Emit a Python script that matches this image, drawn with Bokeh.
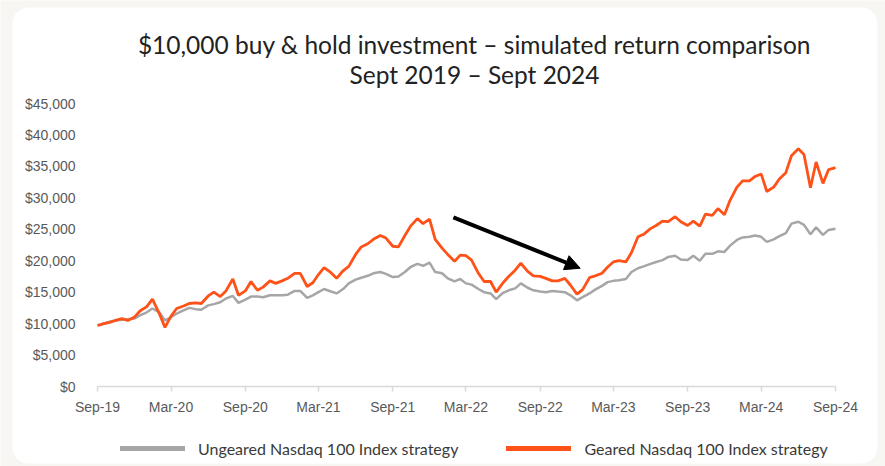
import pandas as pd
from bokeh.plotting import figure
from bokeh.models import (Range1d, FixedTicker, DatetimeTickFormatter, NumeralTickFormatter,
                          Legend, LegendItem, Arrow, NormalHead, ColumnDataSource, Label,
                          BoxAnnotation)
from bokeh.embed import file_html
from bokeh.resources import INLINE

# ---- data (semi-monthly readings, Sep 2019 - Sep 2024) ----
dates = pd.date_range("2019-09-01", periods=121, freq="SMS")

ungeared = [9700, 10000, 10300, 10500, 10600, 10700, 10800, 11300, 11800, 12400,
            11800, 10500, 11000, 11600, 12100, 12500, 12300, 12200, 12900, 13100,
            13400, 14000, 14400, 13300, 13800, 14300, 14300, 14200, 14500, 14500,
            14500, 14600, 15200, 15200, 14100, 14500, 15000, 15500, 15100, 14800,
            15500, 16400, 17000, 17300, 17600, 18000, 18200, 17900, 17400, 17500,
            18200, 19000, 19500, 19200, 19700, 18200, 18000, 17200, 16700, 17100,
            16400, 16200, 15500, 15000, 14800, 13900, 14900, 15300, 15600, 16400,
            15700, 15300, 15100, 15000, 15200, 15100, 15000, 14500, 13700, 14200,
            14800, 15400, 16000, 16600, 16800, 16900, 17100, 18200, 18800, 19100,
            19500, 19800, 20100, 20600, 20800, 20200, 20100, 20800, 20000, 21100,
            21100, 21500, 21400, 22400, 23300, 23700, 23800, 24000, 23800, 23000,
            23400, 23900, 24400, 25900, 26200, 25700, 24200, 25300, 24100, 24900,
            25100]

geared = [9700, 9950, 10200, 10500, 10800, 10500, 11000, 12000, 12700, 13900,
          11600, 9400, 11200, 12400, 12800, 13200, 13300, 13200, 14400, 15000,
          14300, 15200, 17100, 14500, 15200, 16700, 15300, 15800, 16800, 16400,
          16800, 17200, 18000, 18000, 15900, 16500, 17800, 18900, 18100, 17200,
          18400, 19100, 21000, 22200, 22700, 23400, 24000, 23600, 22300, 22200,
          24000, 25500, 26700, 25900, 26600, 23400, 22000, 21000, 19900, 20900,
          20800, 20100, 18000, 16700, 16700, 15000, 16500, 17500, 18500, 19600,
          18300, 17600, 17500, 17200, 16800, 16800, 17200, 16100, 14700, 15400,
          17300, 17600, 18000, 19000, 19800, 20000, 19800, 21300, 23800, 24200,
          25100, 25600, 26300, 26200, 27000, 26200, 25600, 26300, 25500, 27400,
          27200, 28300, 27300, 29600, 31700, 32700, 32700, 33400, 33800, 31000,
          31700, 33000, 34000, 36700, 37800, 36900, 31600, 35700, 32300, 34500,
          34800]

tick_dates = ["2019-09-01", "2020-03-01", "2020-09-01", "2021-03-01", "2021-09-01",
              "2022-03-01", "2022-09-01", "2023-03-01", "2023-09-01", "2024-03-01",
              "2024-09-01"]
y_ticks = [0, 5000, 10000, 15000, 20000, 25000, 30000, 35000, 40000, 45000]

arrow_start = ("2022-01-29", 26900)
arrow_end = ("2022-12-09", 18800)

series_labels = ["Ungeared Nasdaq 100 Index strategy", "Geared Nasdaq 100 Index strategy"]
title_line1 = "$10,000 buy & hold investment \u2013 simulated return comparison"
title_line2 = "Sept 2019 \u2013 Sept 2024"

GREY = "#a6a6a6"
ORANGE = "#fe5219"
TEXT = "#595959"
PAGE_BG = "#f7f6f2"

# ---- layout constants (pixels) ----
W, H = 885, 466
X_FIRST, X_LAST = 97, 835      # x of first / last date tick
Y_TOP_TICK, Y_ZERO = 103, 386  # y of top tick / zero line
CARD = dict(left=12, right=877, top=7, bottom=463)


def ms(d):
    return pd.Timestamp(d).value / 1e6


# the frame covers the whole canvas; ranges chosen so ticks land on the right pixels
t0, t1 = ms(tick_dates[0]), ms(tick_dates[-1])
ms_per_px = (t1 - t0) / (X_LAST - X_FIRST)
x_start = t0 - X_FIRST * ms_per_px
x_end = t0 + (W - X_FIRST) * ms_per_px
per_px = (y_ticks[-1] - y_ticks[0]) / (Y_ZERO - Y_TOP_TICK)
y_start = y_ticks[0] - (H - Y_ZERO) * per_px
y_end = y_ticks[0] + Y_ZERO * per_px

src = ColumnDataSource(dict(date=dates, ungeared=ungeared, geared=geared))

p = figure(width=W, height=H, output_backend="svg", toolbar_location=None,
           title=None, x_axis_type="datetime",
           x_range=Range1d(x_start, x_end), y_range=Range1d(y_start, y_end),
           min_border_left=0, min_border_right=0, min_border_top=0,
           min_border_bottom=0)

p.outline_line_color = None
p.background_fill_color = PAGE_BG
p.border_fill_color = PAGE_BG
p.xgrid.visible = False
p.ygrid.visible = False

# white rounded card behind the chart
p.add_layout(BoxAnnotation(left=CARD["left"], right=CARD["right"],
                           top=H - CARD["top"], bottom=H - CARD["bottom"],
                           left_units="screen", right_units="screen",
                           top_units="screen", bottom_units="screen",
                           fill_color="white", fill_alpha=1, line_color=None,
                           border_radius=16, level="underlay"))

# axes (both pinned inside the frame)
p.yaxis.fixed_location = t0
p.yaxis.ticker = FixedTicker(ticks=y_ticks)
p.yaxis.formatter = NumeralTickFormatter(format="$0,0")
p.yaxis.axis_line_color = None
p.yaxis.major_tick_line_color = None
p.yaxis.minor_tick_line_color = None
p.yaxis.major_label_text_font = "Liberation Sans"
p.yaxis.major_label_text_font_size = "14px"
p.yaxis.major_label_text_color = TEXT
p.yaxis.major_label_standoff = 16

p.xaxis.fixed_location = 0
p.xaxis.bounds = (t0, t1)
p.xaxis.ticker = FixedTicker(ticks=[ms(d) for d in tick_dates])
fmt = "%b-%y"
p.xaxis.formatter = DatetimeTickFormatter(months=fmt, days=fmt, years=fmt, hours=fmt,
                                          minutes=fmt, seconds=fmt, milliseconds=fmt,
                                          microseconds=fmt, minsec=fmt, hourmin=fmt)
p.xaxis.axis_line_color = "#d9d9d9"
p.xaxis.axis_line_width = 1.5
p.xaxis.major_tick_line_color = "#d9d9d9"
p.xaxis.major_tick_line_width = 1.5
p.xaxis.major_tick_in = 0
p.xaxis.major_tick_out = 5
p.xaxis.minor_tick_line_color = None
p.xaxis.major_label_text_font = "Liberation Sans"
p.xaxis.major_label_text_font_size = "14px"
p.xaxis.major_label_text_color = TEXT
p.xaxis.major_label_standoff = 7

# title (two centred lines)
for txt, ypix in ((title_line1, 44), (title_line2, 74)):
    p.add_layout(Label(x=474, y=H - ypix, x_units="screen", y_units="screen",
                       text=txt, text_align="center", text_baseline="middle",
                       text_font="Lato", text_font_size="24.5px", text_color="#222222"))

# lines
p.line("date", "ungeared", source=src, line_color=GREY, line_width=2.5)
p.line("date", "geared", source=src, line_color=ORANGE, line_width=2.8)

# arrow annotation
p.add_layout(Arrow(x_start=ms(arrow_start[0]), y_start=arrow_start[1],
                   x_end=ms(arrow_end[0]), y_end=arrow_end[1],
                   line_color="black", line_width=4,
                   end=NormalHead(size=15, fill_color="black", line_color="black")))

# legend with thicker swatches (renderers that draw nothing in the plot)
blank = ColumnDataSource(dict(x=[float("nan")], y=[float("nan")]))
lg1 = p.line("x", "y", source=blank, line_color=GREY, line_width=5, line_cap="round")
lg2 = p.line("x", "y", source=blank, line_color=ORANGE, line_width=5, line_cap="round")
legend = Legend(items=[LegendItem(label=series_labels[0], renderers=[lg1]),
                       LegendItem(label=series_labels[1], renderers=[lg2])],
                orientation="horizontal", location=(120, H - 458),
                glyph_width=65, glyph_height=20, label_standoff=13, spacing=48,
                padding=0, margin=0, border_line_color=None,
                background_fill_alpha=0,
                label_text_font="Lato", label_text_font_size="16px",
                label_text_color="#3a3a3a")
p.add_layout(legend)

open("out.html", "w").write(file_html(p, INLINE))
